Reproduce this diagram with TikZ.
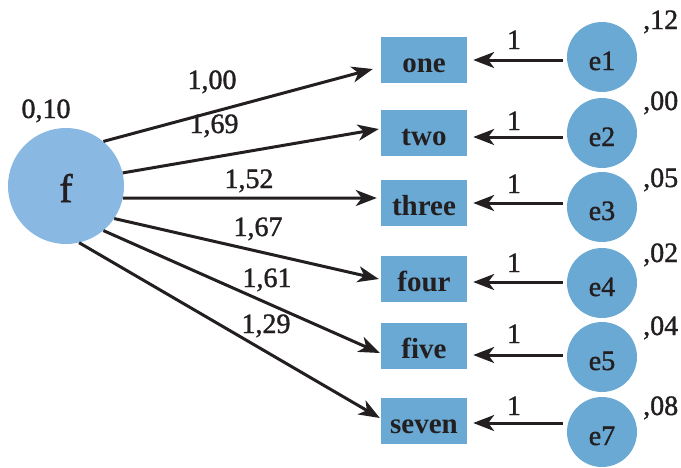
\documentclass[tikz,border=0pt]{standalone}
\usepackage{fontspec}
\setmainfont{Liberation Serif}
\newfontfamily\dgfont{Liberation Serif}[BoldFont={Liberation Serif}, BoldFeatures={FakeBold=1.3}]
\newfontfamily\boxfont{Liberation Serif}
\usetikzlibrary{arrows.meta}
\definecolor{fcol}{RGB}{137,185,227}
\definecolor{bcol}{RGB}{106,169,212}
\definecolor{lc}{RGB}{35,31,32}
\tikzset{
  lat/.style={circle, fill=fcol, minimum size=116pt, inner sep=0pt, text height=32pt, text depth=0pt, text=lc, font=\dgfont\bfseries\fontsize{40}{42}\selectfont},
  obs/.style={rectangle, fill=bcol, minimum width=86pt, minimum height=46pt, inner sep=0pt, text height=24pt, text depth=0pt, text=lc, font=\boxfont\bfseries\fontsize{29}{30}\selectfont},
  err/.style={circle, fill=bcol, minimum size=70pt, inner sep=0pt, text height=26pt, text depth=0pt, text=lc, font=\dgfont\bfseries\fontsize{28}{30}\selectfont},
  arr/.style={line width=3pt, draw=lc, -{Stealth[length=21pt,width=16pt,inset=6pt]}},
  lab/.style={anchor=base, inner sep=0pt, text=lc, font=\dgfont\bfseries\fontsize{28}{30}\selectfont},
  vlab/.style={anchor=base west, inner sep=0pt, text=lc, font=\dgfont\bfseries\fontsize{28}{30}\selectfont},
}
\begin{document}
\begin{tikzpicture}[x=1pt,y=-1pt]
\useasboundingbox (0,0) rectangle (681,467);
% latent factor
\node[lat] (f) at (66,186) {f};
\node[lab] (fv) at (46,118) {0,10};
% observed boxes
\node[obs] (one)   at (424,60)  {one};
\node[obs] (two)   at (424,133) {two};
\node[obs] (three) at (424,203) {three};
\node[obs] (four)  at (424,279) {four};
\node[obs] (five)  at (424,346) {five};
\node[obs] (seven) at (424,421) {seven};
% error circles
\node[err] (e1) at (602,57)  {e1};
\node[err] (e2) at (602,133) {e2};
\node[err] (e3) at (602,207) {e3};
\node[err] (e4) at (602,283) {e4};
\node[err] (e5) at (602,357) {e5};
\node[err] (e7) at (602,432) {e7};
% error variances
\node[vlab] (v1) at (643,29)  {,12};
\node[vlab] (v2) at (643,110) {,00};
\node[vlab] (v3) at (643,187) {,05};
\node[vlab] (v4) at (643,262) {,02};
\node[vlab] (v5) at (643,335) {,04};
\node[vlab] (v7) at (643,415) {,08};
% loadings f -> boxes
\draw[arr] (f.50)  -- ([xshift=-8pt,yshift=-9pt]one.west);
\draw[arr] (f.13)  -- ([xshift=-2pt,yshift=4pt]two.west);
\draw[arr] (f.-12) -- ([xshift=-4pt,yshift=5pt]three.west);
\draw[arr] (f.-34) -- ([xshift=-2pt]four.west);
\draw[arr] (f.-50) -- ([xshift=-1pt,yshift=-7pt]five.west);
\draw[arr] (f.-77) -- ([xshift=-1pt,yshift=3pt]seven.west);
\node[lab] (w1) at (212,89)  {1,00};
\node[lab] (w2) at (214,133) {1,69};
\node[lab] (w3) at (249,188) {1,52};
\node[lab] (w4) at (258,236) {1,67};
\node[lab] (w5) at (267,287) {1,61};
\node[lab] (w7) at (266,333) {1,29};
% error arrows
\draw[arr, shorten <=4pt] ([yshift=-3pt]e1.west) -- ([xshift=6pt]one.east |- 0,60);
\draw[arr, shorten <=4pt] ([yshift=-4pt]e2.west) -- ([xshift=6pt]two.east |- 0,137);
\draw[arr, shorten <=4pt] ([yshift=4pt]e3.west) -- ([xshift=6pt]three.east |- 0,203);
\draw[arr, shorten <=4pt] ([yshift=1pt]e4.west) -- ([xshift=6pt]four.east |- 0,282);
\draw[arr, shorten <=4pt] ([yshift=2pt]e5.west) -- ([xshift=6pt]five.east |- 0,355);
\draw[arr, shorten <=4pt] ([yshift=9pt]e7.west) -- ([xshift=6pt]seven.east |- 0,423);
\node[lab] (o1) at (514,49)  {1};
\node[lab] (o2) at (514,130) {1};
\node[lab] (o3) at (514,193) {1};
\node[lab] (o4) at (514,272) {1};
\node[lab] (o5) at (514,343) {1};
\node[lab] (o7) at (514,415) {1};
\end{tikzpicture}
\end{document}
